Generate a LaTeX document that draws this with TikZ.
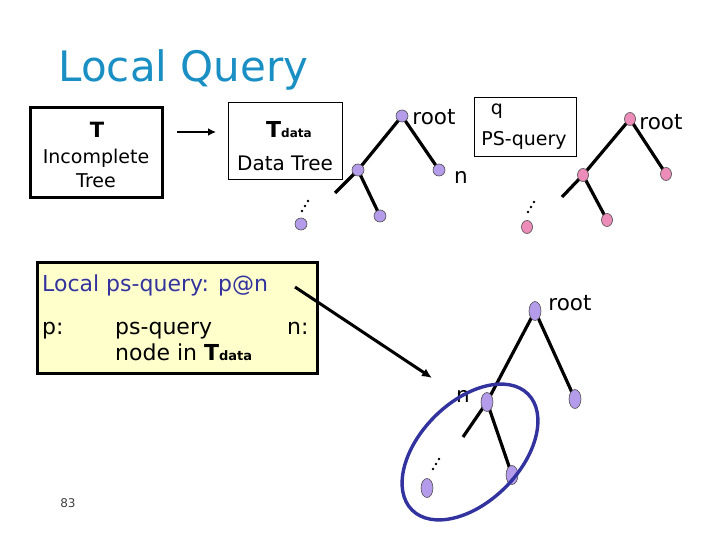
\documentclass[tikz,border=0pt]{standalone}
\usepackage{fontspec}
\setmainfont{DejaVu Sans}
\usetikzlibrary{arrows.meta,shapes.geometric}
\definecolor{titleblue}{HTML}{1A8FC4}
\definecolor{boxblue}{HTML}{3333A0}
\definecolor{lav}{HTML}{B49CEA}
\definecolor{pinkn}{HTML}{EC8CB8}
\definecolor{paleyellow}{HTML}{FFFFCC}
\tikzset{
  pnode/.style={circle,draw=black!70,line width=0.6pt,fill=lav,inner sep=0pt,minimum size=12pt},
  knode/.style={ellipse,draw=black!70,line width=0.6pt,fill=pinkn,inner sep=0pt,minimum width=11pt,minimum height=13pt},
  enode/.style={ellipse,draw=black!70,line width=0.6pt,fill=lav,inner sep=0pt,minimum width=12pt,minimum height=19pt},
  edge/.style={line width=3.2pt,black},
  lbl/.style={font=\fontsize{19}{21}\selectfont,inner sep=0pt},
  big/.style={font=\fontsize{21.5}{24}\selectfont,inner sep=0pt},
  ylbl/.style={font=\fontsize{22}{24}\selectfont,inner sep=0pt,anchor=base west},
  dotc/.style={fill=black,circle,inner sep=0pt,minimum size=2.6pt},
}
\begin{document}
\begin{tikzpicture}[x=1pt,y=-1pt]
\useasboundingbox (0,0) rectangle (720,540);
% title
\node[font=\fontsize{42}{48}\selectfont,text=titleblue,inner sep=0pt] (title) at (183.5,70) {Local Query};
% T box
\node[draw,line width=3pt,minimum width=132pt,minimum height=90pt,inner sep=0pt] (tbox) at (96.5,152.5) {};
\node[lbl,font=\bfseries\fontsize{21}{23}\selectfont] (tT) at (97,130) {T};
\node[lbl] (tInc) at (96,158) {Incomplete};
\node[lbl] (tTree) at (96,181) {Tree};
% arrow
\coordinate (a1) at (177,132);
\coordinate (a2) at (216,132);
\draw[line width=2.6pt,-{Latex[length=8pt,width=8pt]}] (a1) -- (a2);
% Tdata box
\node[draw,line width=0.9pt,minimum width=114pt,minimum height=77pt,inner sep=0pt] (dbox) at (285,140.5) {};
\node[inner sep=0pt,anchor=base] (dT) at (289,138) {{\fontsize{22}{24}\selectfont\bfseries T}{\fontsize{12}{14}\selectfont\bfseries data}};
\node[lbl,font=\fontsize{20}{22}\selectfont] (dData) at (285,163) {Data Tree};
% left purple tree
\coordinate (l1) at (335,193);
\draw[edge] (402,116) coordinate (r0) -- (358,170) coordinate (r1);
\draw[edge] (r0) -- (439,170);
\draw[edge] (r1) -- (380,216);
\draw[edge] (r1) -- (l1);
\node[pnode] (lr) at (402,116) {};
\node[pnode] (la) at (358,170) {};
\node[pnode] (lb) at (439,170) {};
\node[pnode] (lc) at (380,216) {};
\node[pnode] (ld) at (301,224) {};
\node[dotc] (d1) at (302,211) {};
\node[dotc] (d2) at (305,206) {};
\node[dotc] (d3) at (308,201) {};
\node[big] (lroot) at (434,117) {root};
\node[big] (ln) at (461,177) {n};
% q box
\node[draw,line width=0.9pt,minimum width=102pt,minimum height=59pt,inner sep=0pt] (qbox) at (525,126.5) {};
\node[lbl] (qq) at (497,111) {q};
\node[lbl] (qps) at (524,140) {PS-query};
% right pink tree
\coordinate (l2) at (562,197);
\draw[edge] (630,119) coordinate (s0) -- (583,175) coordinate (s1);
\draw[edge] (s0) -- (666,174);
\draw[edge] (s1) -- (607,220);
\draw[edge] (s1) -- (l2);
\node[knode] (kr) at (630,119) {};
\node[knode] (ka) at (583,175) {};
\node[knode] (kb) at (666,174) {};
\node[knode] (kc) at (607,220) {};
\node[knode] (kd) at (527,227) {};
\node[dotc] (e1) at (528,212) {};
\node[dotc] (e2) at (531,207) {};
\node[dotc] (e3) at (534,202) {};
\node[big] (rroot) at (661,122) {root};
% yellow box
\node[draw,line width=3pt,fill=paleyellow,minimum width=280pt,minimum height=111pt,inner sep=0pt] (ybox) at (177.5,317.5) {};
\node[ylbl,text=boxblue] (yt) at (42,291) {Local ps-query: p@n};
\node[ylbl] (yp) at (42,334) {p:};
\node[ylbl] (yps) at (115,334) {ps-query};
\node[ylbl] (yn) at (287,334) {n:};
\node[ylbl] (ynode) at (115,360) {node in {\bfseries T}{\fontsize{13}{15}\selectfont\bfseries data}};
% long arrow
\coordinate (b1) at (295,287);
\coordinate (b2) at (432,378);
\draw[line width=3pt,-{Latex[length=10pt,width=9pt]}] (b1) -- (b2);
% bottom tree
\coordinate (l3) at (463,437);
\draw[edge] (535,311) coordinate (u0) -- (487,402) coordinate (u1);
\draw[edge] (u0) -- (575,399);
\draw[edge] (u1) -- (512,475);
\draw[edge] (u1) -- (l3);
\node[enode] (br) at (535,311) {};
\node[enode] (ba) at (487,402) {};
\node[enode] (bb) at (575,399) {};
\node[enode] (bc) at (512,475) {};
\node[enode] (bd) at (427,488) {};
\node[dotc] (f1) at (433,469) {};
\node[dotc] (f2) at (436,464) {};
\node[dotc] (f3) at (439,459) {};
\node[big] (broot) at (570,303) {root};
\node[big] (bn) at (463,396) {n};
% blue ellipse
\draw[boxblue,line width=3.4pt,rotate around={45:(470,452)}] (470,452) ellipse [x radius=82, y radius=50];
% page number
\node[font=\fontsize{12}{14}\selectfont,text=black!75,inner sep=0pt] (pg) at (68,503) {83};
\end{tikzpicture}
\end{document}
